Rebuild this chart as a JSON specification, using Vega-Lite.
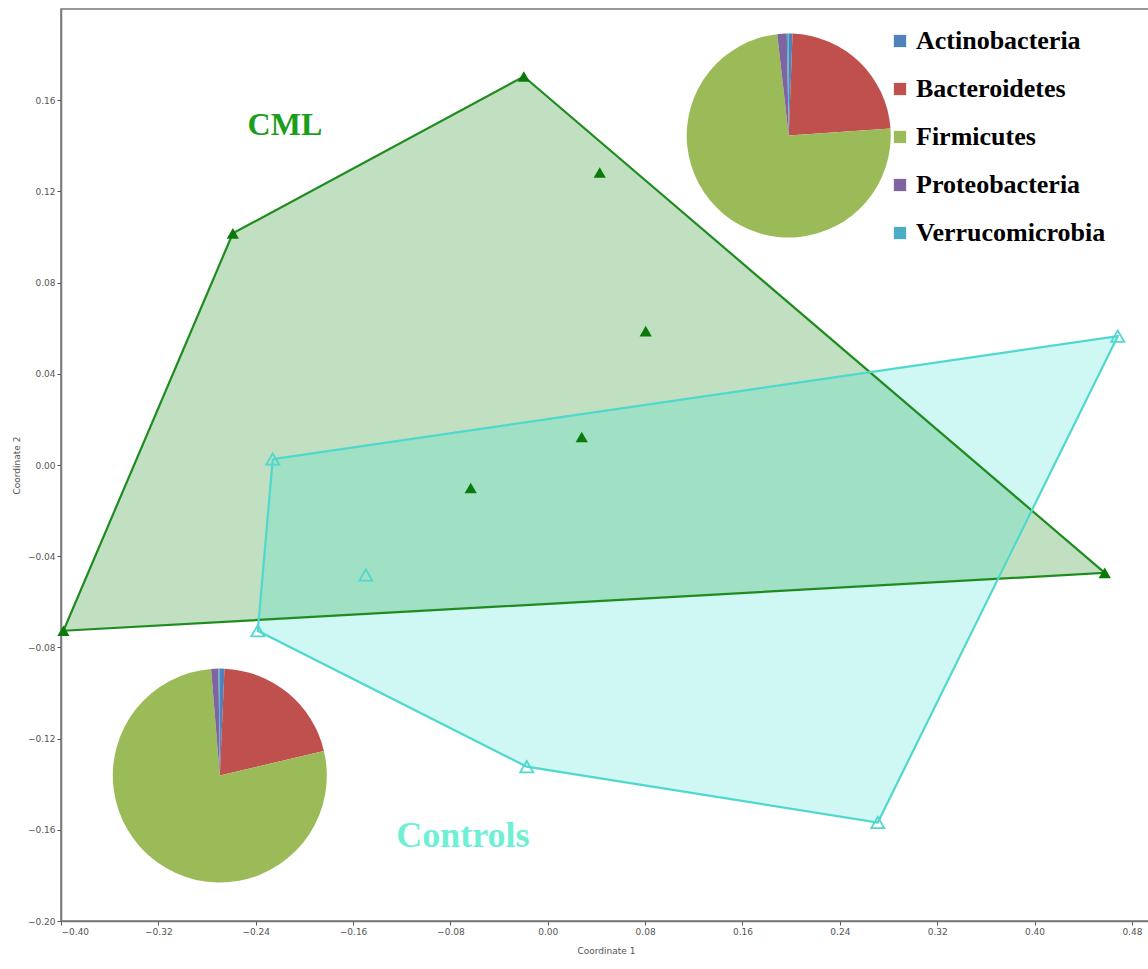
{
  "$schema": "https://vega.github.io/schema/vega-lite/v6.json",
  "autosize": "none",
  "width": 1090,
  "height": 912,
  "padding": {"left": 61, "top": 9, "right": 0, "bottom": 48},
  "background": "white",
  "config": {
    "view": {"stroke": "#777", "strokeWidth": 1.5},
    "axis": {
      "labelFont": "DejaVu Sans",
      "labelFontSize": 9,
      "labelColor": "#555",
      "titleFont": "DejaVu Sans",
      "titleFontSize": 9,
      "titleFontWeight": "normal",
      "titleColor": "#555",
      "domainColor": "#777",
      "domainWidth": 1.5,
      "tickColor": "#555",
      "tickSize": 4,
      "grid": false
    }
  },
  "datasets": {
    "hull": [
      {"group": "CML", "ord": 1, "x": -0.398, "y": -0.0727},
      {"group": "CML", "ord": 2, "x": -0.2588, "y": 0.1016},
      {"group": "CML", "ord": 3, "x": -0.0197, "y": 0.1704},
      {"group": "CML", "ord": 4, "x": 0.4577, "y": -0.0473},
      {"group": "CML", "ord": 5, "x": -0.398, "y": -0.0727},
      {"group": "Controls", "ord": 1, "x": -0.226, "y": 0.0026},
      {"group": "Controls", "ord": 2, "x": 0.4684, "y": 0.0565},
      {"group": "Controls", "ord": 3, "x": 0.2712, "y": -0.1568},
      {"group": "Controls", "ord": 4, "x": -0.0173, "y": -0.1323},
      {"group": "Controls", "ord": 5, "x": -0.2383, "y": -0.0727},
      {"group": "Controls", "ord": 6, "x": -0.226, "y": 0.0026}
    ],
    "points": [
      {"group": "CML", "x": -0.398, "y": -0.0727},
      {"group": "CML", "x": -0.2588, "y": 0.1016},
      {"group": "CML", "x": -0.0197, "y": 0.1704},
      {"group": "CML", "x": 0.0427, "y": 0.1283},
      {"group": "CML", "x": 0.0805, "y": 0.0587},
      {"group": "CML", "x": 0.0279, "y": 0.0123},
      {"group": "CML", "x": -0.0633, "y": -0.0101},
      {"group": "CML", "x": 0.4577, "y": -0.0473},
      {"group": "Controls", "x": -0.226, "y": 0.0026},
      {"group": "Controls", "x": -0.1495, "y": -0.0482},
      {"group": "Controls", "x": -0.2383, "y": -0.0727},
      {"group": "Controls", "x": -0.0173, "y": -0.1323},
      {"group": "Controls", "x": 0.2712, "y": -0.1568},
      {"group": "Controls", "x": 0.4684, "y": 0.0565}
    ],
    "pies": [
      {"pie": "CML", "cx": 0.198, "cy": 0.1445, "phylum": "Actinobacteria", "idx": 1, "pct": 0.6},
      {"pie": "CML", "cx": 0.198, "cy": 0.1445, "phylum": "Bacteroidetes", "idx": 2, "pct": 23.3},
      {"pie": "CML", "cx": 0.198, "cy": 0.1445, "phylum": "Firmicutes", "idx": 3, "pct": 74.3},
      {"pie": "CML", "cx": 0.198, "cy": 0.1445, "phylum": "Proteobacteria", "idx": 4, "pct": 1.5},
      {"pie": "CML", "cx": 0.198, "cy": 0.1445, "phylum": "Verrucomicrobia", "idx": 5, "pct": 0.3},
      {"pie": "Controls", "cx": -0.2695, "cy": -0.1362, "phylum": "Actinobacteria", "idx": 1, "pct": 0.7},
      {"pie": "Controls", "cx": -0.2695, "cy": -0.1362, "phylum": "Bacteroidetes", "idx": 2, "pct": 20.6},
      {"pie": "Controls", "cx": -0.2695, "cy": -0.1362, "phylum": "Firmicutes", "idx": 3, "pct": 77.4},
      {"pie": "Controls", "cx": -0.2695, "cy": -0.1362, "phylum": "Proteobacteria", "idx": 4, "pct": 1.1},
      {"pie": "Controls", "cx": -0.2695, "cy": -0.1362, "phylum": "Verrucomicrobia", "idx": 5, "pct": 0.2}
    ],
    "labels": [
      {"group": "CML", "x": -0.216, "y": 0.149},
      {"group": "Controls", "x": -0.0698, "y": -0.1625}
    ]
  },
  "encoding": {
    "x": {"field": "x", "type": "quantitative",
      "scale": {"domain": [-0.4, 0.4957], "nice": false, "zero": false},
      "axis": {"title": "Coordinate 1", "values": [-0.4, -0.32, -0.24, -0.16, -0.08, 0, 0.08, 0.16, 0.24, 0.32, 0.4, 0.48], "format": ".2f", "titlePadding": 10, "labelPadding": 2}},
    "y": {"field": "y", "type": "quantitative",
      "scale": {"domain": [-0.2, 0.2], "nice": false, "zero": false},
      "axis": {"title": "Coordinate 2", "values": [-0.2, -0.16, -0.12, -0.08, -0.04, 0, 0.04, 0.08, 0.12, 0.16], "format": ".2f", "titlePadding": 6, "labelPadding": 2}}
  },
  "layer": [
    {
      "data": {"name": "hull"},
      "transform": [{"filter": "datum.group === 'CML'"}],
      "mark": {"type": "line", "fill": "#339933", "fillOpacity": 0.3, "strokeWidth": 0, "stroke": null},
      "encoding": {"order": {"field": "ord", "type": "quantitative"}}
    },
    {
      "data": {"name": "hull"},
      "transform": [{"filter": "datum.group === 'Controls'"}],
      "mark": {"type": "line", "fill": "#40e0d0", "fillOpacity": 0.25, "strokeWidth": 0, "stroke": null},
      "encoding": {"order": {"field": "ord", "type": "quantitative"}}
    },
    {
      "data": {"name": "hull"},
      "transform": [{"filter": "datum.group === 'CML'"}],
      "mark": {"type": "line", "stroke": "#1f8c1f", "strokeWidth": 2.2},
      "encoding": {"order": {"field": "ord", "type": "quantitative"}}
    },
    {
      "data": {"name": "hull"},
      "transform": [{"filter": "datum.group === 'Controls'"}],
      "mark": {"type": "line", "stroke": "#4fd8cd", "strokeWidth": 2.2},
      "encoding": {"order": {"field": "ord", "type": "quantitative"}}
    },
    {
      "data": {"name": "points"},
      "transform": [{"filter": "datum.group === 'CML'"}],
      "mark": {"type": "point", "shape": "triangle-up", "filled": true, "color": "#0a7a0a", "size": 150, "opacity": 1}
    },
    {
      "data": {"name": "points"},
      "transform": [{"filter": "datum.group === 'Controls'"}],
      "mark": {"type": "point", "shape": "triangle-up", "filled": false, "stroke": "#4fd8cd", "strokeWidth": 1.8, "size": 170, "opacity": 1}
    },
    {
      "data": {"name": "pies"},
      "transform": [{"filter": "datum.pie === 'CML'"}],
      "mark": {"type": "arc", "radius": 102},
      "encoding": {
        "x": {"field": "cx", "type": "quantitative"},
        "y": {"field": "cy", "type": "quantitative"},
        "theta": {"field": "pct", "type": "quantitative", "stack": true},
        "order": {"field": "idx", "type": "quantitative"},
        "color": {"field": "phylum", "type": "nominal",
          "scale": {"domain": ["Actinobacteria", "Bacteroidetes", "Firmicutes", "Proteobacteria", "Verrucomicrobia"],
                    "range": ["#4f81bd", "#c0504d", "#9bbb59", "#8064a2", "#4bacc6"]},
          "legend": {"orient": "none", "legendX": 826, "legendY": 19, "title": null, "padding": 0,
            "symbolType": "square", "symbolSize": 150, "symbolStrokeWidth": 0, "symbolOpacity": 1,
            "labelFont": "Liberation Serif", "labelFontWeight": "bold", "labelFontSize": 26, "labelColor": "#000",
            "labelOffset": 3, "rowPadding": 22, "labelLimit": 400}}
      }
    },
    {
      "data": {"name": "pies"},
      "transform": [{"filter": "datum.pie === 'Controls'"}],
      "mark": {"type": "arc", "radius": 107},
      "encoding": {
        "x": {"field": "cx", "type": "quantitative"},
        "y": {"field": "cy", "type": "quantitative"},
        "theta": {"field": "pct", "type": "quantitative", "stack": true},
        "order": {"field": "idx", "type": "quantitative"},
        "color": {"field": "phylum", "type": "nominal"}
      }
    },
    {
      "data": {"name": "labels"},
      "transform": [{"filter": "datum.group === 'CML'"}],
      "mark": {"type": "text", "text": "CML", "font": "Liberation Serif", "fontWeight": "bold", "fontSize": 32, "color": "#1c9e1c", "baseline": "middle", "align": "center"}
    },
    {
      "data": {"name": "labels"},
      "transform": [{"filter": "datum.group === 'Controls'"}],
      "mark": {"type": "text", "text": "Controls", "font": "Liberation Serif", "fontWeight": "bold", "fontSize": 36, "color": "#6ff0d6", "baseline": "middle", "align": "center"}
    }
  ]
}
